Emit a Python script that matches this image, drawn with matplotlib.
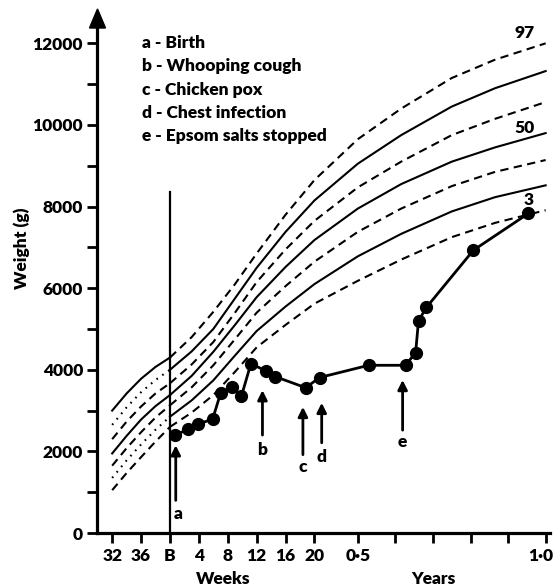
import matplotlib
matplotlib.use('Agg')
import matplotlib.pyplot as plt
from matplotlib.patches import Polygon
from matplotlib.transforms import ScaledTranslation

plt.rcParams['font.family'] = ['Lato', 'DejaVu Sans']

# weeks after birth (negative = before term); 0.5 yr = 26 wk, 1.0 yr = 52 wk
post_weeks = [0, 3, 6, 9, 12, 16, 20, 26, 32, 39, 45, 52]
post_p97 = [4300, 4800, 5420, 6100, 6850, 7800, 8650, 9650, 10400, 11150, 11600, 12000]
post_p90 = [4000, 4450, 5000, 5750, 6500, 7380, 8150, 9050, 9750, 10450, 10900, 11320]
post_p75 = [3670, 4130, 4680, 5400, 6150, 6950, 7650, 8470, 9100, 9750, 10150, 10560]
post_p50 = [3380, 3850, 4440, 5100, 5780, 6520, 7180, 7950, 8550, 9100, 9450, 9800]
post_p25 = [3130, 3570, 4110, 4750, 5400, 6050, 6650, 7380, 7950, 8500, 8850, 9140]
post_p10 = [2850, 3250, 3740, 4350, 4950, 5550, 6100, 6780, 7330, 7880, 8230, 8520]
post_p3 = [2600, 2950, 3380, 3950, 4550, 5100, 5620, 6180, 6700, 7250, 7600, 7910]

pre_weeks = [-8, -6, -4, -2, 0]
pre_p97 = [3000, 3420, 3780, 4070, 4300]
pre_p90 = [2650, 3080, 3450, 3750, 4000]
pre_p75 = [2300, 2730, 3100, 3420, 3670]
pre_p50 = [1950, 2380, 2780, 3110, 3380]
pre_p25 = [1650, 2080, 2470, 2830, 3130]
pre_p10 = [1350, 1780, 2170, 2530, 2850]
pre_p3 = [1050, 1470, 1860, 2240, 2600]

# the child's weights
child_weeks = [0.7, 2.5, 3.9, 5.9, 7.0, 8.6, 9.9, 11.2, 13.3, 14.6, 18.8, 20.7,
               27.5, 32.6, 34.0, 34.4, 35.5, 42.0, 49.6]
child_weight = [2400, 2540, 2670, 2790, 3420, 3580, 3360, 4150, 3970, 3830, 3560, 3810,
                4110, 4110, 4420, 5200, 5530, 6930, 7830]

# event arrows: letter, week, arrow tip, arrow tail
event_letters = ['a', 'b', 'c', 'd', 'e']
event_weeks = [0.8, 12.8, 18.4, 21.0, 32.2]
event_tip = [2150, 3500, 3090, 3190, 3750]
event_tail = [800, 2400, 1920, 2210, 2520]
event_text_y = [470, 2030, 1620, 1860, 2230]

legend_lines = ['a - Birth', 'b - Whooping cough', 'c - Chicken pox',
                'd - Chest infection', 'e - Epsom salts stopped']

xtick_pos = [-8, -4, 0, 4, 8, 12, 16, 20, 26, 31.2, 36.4, 41.6, 46.8, 52]
xtick_lab = ['32', '36', 'B', '4', '8', '12', '16', '20', '0·5', '', '', '', '', '1·0']

W, H = 557, 587
fig = plt.figure(figsize=(W / 100, H / 100), dpi=100)
ax = fig.add_axes([97 / W, (H - 533) / H, (550 - 97) / W, (533 - 27) / H])

dash = (0, (4, 2.6))
dot = (0, (0.8, 2.6))
lw = 1.5
fs = 12.5

post = [post_p97, post_p90, post_p75, post_p50, post_p25, post_p10, post_p3]
post_styles = [dash, '-', dash, '-', dash, '-', dash]
for vals, ls in zip(post, post_styles):
    ax.plot(post_weeks, vals, color='black', lw=lw, linestyle=ls)

pre = [pre_p97, pre_p90, pre_p75, pre_p50, pre_p25, pre_p10, pre_p3]
pre_styles = ['-', dot, dash, '-', dash, dot, dash]
for vals, ls in zip(pre, pre_styles):
    ax.plot(pre_weeks, vals, color='black', lw=lw, linestyle=ls)

# birth line
ax.plot([0, 0], [0, 8350], color='black', lw=1.6)

ax.plot(child_weeks, child_weight, color='black', lw=2, marker='o', markersize=8.5, zorder=5)

for let, x, tip, tail, ty in zip(event_letters, event_weeks, event_tip, event_tail, event_text_y):
    ax.annotate('', xy=(x, tip), xytext=(x, tail),
                arrowprops=dict(arrowstyle='-|>', color='black', lw=2, mutation_scale=14,
                                shrinkA=0, shrinkB=0))
    ax.text(x + (0.3 if let == 'a' else 0), ty, let, fontsize=fs, fontweight='heavy',
            ha='center', va='center')

# percentile labels
ax.text(49.1, 12250, '97', fontsize=fs, fontweight='heavy', ha='center', va='center')
ax.text(49.1, 9920, '50', fontsize=fs, fontweight='heavy', ha='center', va='center')
ax.text(49.7, 8160, '3', fontsize=fs, fontweight='heavy', ha='center', va='center')

for i, line in enumerate(legend_lines):
    ax.text(142 / W, (H - 43 - i * 23.3) / H, line, transform=fig.transFigure,
            fontsize=fs, fontweight='heavy', ha='left', va='center')

ax.set_xlim(-10.1, 52.6)
ax.set_ylim(0, 12400)
ax.set_xticks(xtick_pos)
ax.set_xticklabels(xtick_lab, fontsize=fs, fontweight='heavy')
ax.set_yticks([0, 2000, 4000, 6000, 8000, 10000, 12000])
ax.set_yticklabels(['0', '2000', '4000', '6000', '8000', '10000', '12000'],
                   fontsize=fs, fontweight='heavy')
ax.set_yticks([1000, 3000, 5000, 7000, 9000, 11000], minor=True)
ax.tick_params(axis='both', which='both', direction='out', width=2, length=7, pad=3)
ax.tick_params(axis='x', pad=4)

# pull the last label (1.0) in a little so it stays on the page
last = ax.get_xticklabels()[-1]
last.set_transform(last.get_transform() + ScaledTranslation(-5 / 100, 0, fig.dpi_scale_trans))

for s in ['top', 'right']:
    ax.spines[s].set_visible(False)
for s in ['left', 'bottom']:
    ax.spines[s].set_linewidth(2.3)

# arrowhead on the weight axis
x0 = 97.5 / W
fig.patches.append(Polygon([(x0 - 8 / W, 1 - 28 / H), (x0 + 8 / W, 1 - 28 / H), (x0, 1 - 9 / H)],
                           closed=True, color='black', transform=fig.transFigure))

fig.text(22 / W, 1 - 248 / H, 'Weight (g)', rotation=90, fontsize=fs, fontweight='heavy',
         ha='center', va='center')
fig.text(223 / W, 8 / H, 'Weeks', fontsize=fs, fontweight='heavy', ha='center', va='center')
fig.text(433 / W, 8 / H, 'Years', fontsize=fs, fontweight='heavy', ha='center', va='center')

fig.savefig('out.png', dpi=100)
